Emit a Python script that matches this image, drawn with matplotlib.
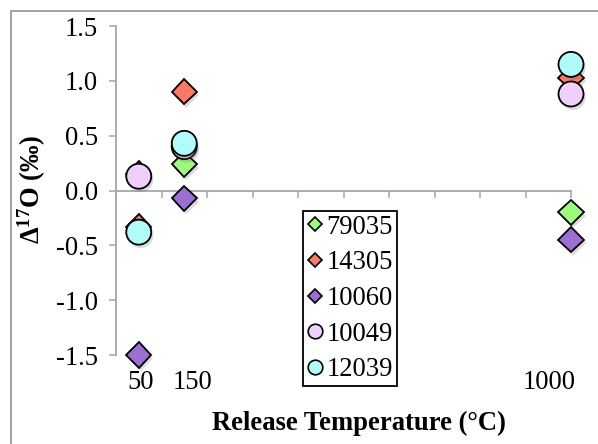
import matplotlib
matplotlib.use("Agg")
import matplotlib.pyplot as plt
import matplotlib.patches as patches
import matplotlib.transforms as mtransforms
import matplotlib.patheffects as pe
from matplotlib.lines import Line2D

plt.rcParams['font.family'] = ['Liberation Serif', 'DejaVu Serif']
plt.rcParams['mathtext.fontset'] = 'custom'
plt.rcParams['mathtext.rm'] = 'Liberation Serif'
plt.rcParams['mathtext.bf'] = 'Liberation Serif:bold'
plt.rcParams['mathtext.default'] = 'bf'

# ---- data ----
temps = [50, 150, 1000]
series_names = ['79035', '14305', '10060', '10049', '12039']
s79035 = [0.15, 0.24, -0.20]
s14305 = [-0.33, 0.90, 1.03]
s10060 = [-1.50, -0.07, -0.45]
s10049 = [0.13, 0.40, 0.88]
s12039 = [-0.38, 0.43, 1.15]
series_values = [s79035, s14305, s10060, s10049, s12039]
x_tick_labels = ['50', '150', '1000']
y_ticks = [-1.5, -1.0, -0.5, 0.0, 0.5, 1.0, 1.5]

markers = ['D', 'D', 'D', 'o', 'o']
colors = ['#9cfb7c', '#fc7866', '#9b6fd3', '#f0cffc', '#b0fcf8']

FS = 19.2
W, H = 598, 444
fig = plt.figure(figsize=(W / 100, H / 100), dpi=100)
ax = fig.add_axes([116 / W, 1 - 355 / H, (571 - 116) / W, (355 - 26) / H])

# outer frame
fig.patches.append(patches.Rectangle((11 / W, -0.2), 2, 1 - 11 / H + 0.2,
                                     transform=fig.transFigure, fill=False,
                                     edgecolor='#9a9a9a', linewidth=1.3))

shadow = [pe.SimplePatchShadow(offset=(1.5, -2.5), shadow_rgbFace='#777777', alpha=0.25), pe.Normal()]
for name, vals, m, c in zip(series_names, series_values, markers, colors):
    ms = 12.8 if m == 'D' else 18
    ax.plot(temps, vals, linestyle='none', marker=m, markersize=ms,
            markerfacecolor=c, markeredgecolor='black', markeredgewidth=1.3,
            path_effects=shadow, clip_on=False, zorder=3)

ax.set_xlim(0, 1000)
ax.set_ylim(-1.5, 1.5)
ax.set_yticks(y_ticks)
ax.set_yticklabels([f'{v:.1f}' for v in y_ticks], fontsize=FS)
ax.set_xticks(range(0, 1001, 100))
ax.set_xticklabels([])

for s in ['top', 'right']:
    ax.spines[s].set_visible(False)
ax.spines['left'].set_color('#a6a6a6')
ax.spines['left'].set_linewidth(1.3)
ax.spines['bottom'].set_position(('data', 0))
ax.spines['bottom'].set_color('#a6a6a6')
ax.spines['bottom'].set_linewidth(1.3)
ax.tick_params(axis='y', direction='out', length=5, width=1.1, color='#a6a6a6', pad=8)
ax.tick_params(axis='x', direction='out', length=5, width=1.1, color='#a6a6a6')

# x labels at bottom
offsets_px = [2, 8, -22]
for xv, lab, off in zip(temps, x_tick_labels, offsets_px):
    tr = mtransforms.blended_transform_factory(ax.transData, ax.transAxes) + \
        mtransforms.ScaledTranslation(off / 100, 0, fig.dpi_scale_trans)
    ax.text(xv, -0.083, lab, transform=tr, ha='center', va='center', fontsize=FS)

fig.text(359 / W, 1 - 423 / H, 'Release Temperature (°C)', ha='center', va='center',
         fontsize=FS, fontweight='bold')
fig.text(32 / W, 1 - 190 / H, r'Δ$^{17}$O (‰)', ha='center', va='center',
         rotation=90, fontsize=FS, fontweight='bold')

handles = [Line2D([], [], linestyle='none', marker=m, markersize=(7.5 if m == 'D' else 10.5),
                  markerfacecolor=c, markeredgecolor='black', markeredgewidth=1.2)
           for m, c in zip(markers, colors)]
leg = ax.legend(handles, series_names, loc='upper left', bbox_to_anchor=(0.411, 0.438),
                borderaxespad=0, fontsize=FS, frameon=True, fancybox=False,
                handlelength=0.6, handletextpad=0.15, labelspacing=0.4, borderpad=0.14)
leg.get_frame().set_edgecolor('black')
leg.get_frame().set_linewidth(1.3)
leg.get_frame().set_alpha(1)

fig.savefig('out.png', dpi=100)
